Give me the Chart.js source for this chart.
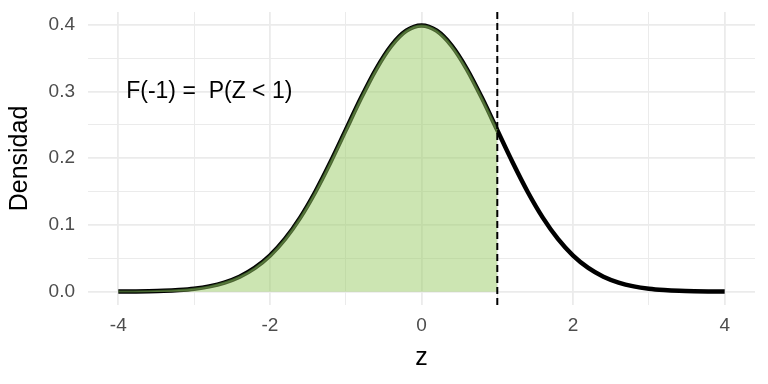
<!DOCTYPE html>
<html>
<head>
<meta charset="utf-8">
<script src="https://cdn.jsdelivr.net/npm/chart.js@4.4.1/dist/chart.umd.min.js"></script>
<style>
  html, body { margin: 0; padding: 0; background: #fff; }
  #wrap { width: 768px; height: 384px; }
</style>
</head>
<body>
<div id="wrap"><canvas id="normChart" width="768" height="384"></canvas></div>
<script>
// density of Z, every 0.2
const zValues = [-4, -3.8, -3.6, -3.4, -3.2, -3, -2.8, -2.6, -2.4, -2.2, -2, -1.8, -1.6, -1.4, -1.2, -1, -0.8, -0.6, -0.4, -0.2,
  0, 0.2, 0.4, 0.6, 0.8, 1, 1.2, 1.4, 1.6, 1.8, 2, 2.2, 2.4, 2.6, 2.8, 3, 3.2, 3.4, 3.6, 3.8, 4];
const density = [0.0001, 0.0003, 0.0006, 0.0012, 0.0024, 0.0044, 0.0079, 0.0136, 0.0224, 0.0355, 0.0540, 0.0790, 0.1109, 0.1497, 0.1942, 0.2420, 0.2897, 0.3332, 0.3683, 0.3910,
  0.3989, 0.3910, 0.3683, 0.3332, 0.2897, 0.2420, 0.1942, 0.1497, 0.1109, 0.0790, 0.0540, 0.0355, 0.0224, 0.0136, 0.0079, 0.0044, 0.0024, 0.0012, 0.0006, 0.0003, 0.0001];
const cutoff = 1;
const xTickValues = [-4, -3, -2, -1, 0, 1, 2, 3, 4];
const xTickLabels = ['-4', '', '-2', '', '0', '', '2', '', '4'];
const yTickValues = [0, 0.05, 0.1, 0.15, 0.2, 0.25, 0.3, 0.35, 0.4];
const yTickLabels = ['0.0', '', '0.1', '', '0.2', '', '0.3', '', '0.4'];
const noteText = 'F(-1) =  P(Z < 1)';
const notePos = [-2.8, 0.3];

const X_MIN = -4.4, X_MAX = 4.4, Y_MIN = -0.02, Y_MAX = 0.419;

const curve = zValues.map((z, i) => ({ x: z, y: density[i] }));
const shaded = curve.filter(p => p.x <= cutoff);
const vline = [{ x: cutoff, y: Y_MIN }, { x: cutoff, y: Y_MAX }];

const FONT = '"Liberation Sans", Arial, sans-serif';
const gridMajor = '#ebebeb';
const tickFont = { family: FONT, size: 19 };
const titleFont = { family: FONT, size: 25 };

const notePlugin = {
  id: 'note',
  afterDatasetsDraw(chart) {
    const { ctx, scales } = chart;
    ctx.save();
    ctx.font = '23px ' + FONT;
    ctx.fillStyle = '#000';
    ctx.textAlign = 'center';
    ctx.textBaseline = 'middle';
    ctx.fillText(noteText, scales.x.getPixelForValue(notePos[0]), scales.y.getPixelForValue(notePos[1]));
    ctx.restore();
  }
};

new Chart(document.getElementById('normChart'), {
  type: 'line',
  data: {
    datasets: [
      {
        data: vline,
        borderColor: '#000',
        borderWidth: 2,
        borderDash: [7, 4],
        pointRadius: 0,
        fill: false,
        order: -1
      },
      {
        data: shaded,
        borderColor: 'rgba(100, 150, 70, 0.55)',
        borderWidth: 2,
        backgroundColor: 'rgba(153, 204, 102, 0.5)',
        pointRadius: 0,
        cubicInterpolationMode: 'monotone',
        fill: 'origin',
        order: 0
      },
      {
        data: curve,
        borderColor: '#000',
        borderWidth: 4.5,
        pointRadius: 0,
        cubicInterpolationMode: 'monotone',
        fill: false,
        order: 1
      }
    ]
  },
  options: {
    responsive: false,
    animation: false,
    events: [],
    layout: { padding: { top: 12, right: 13, left: 0, bottom: 0 } },
    plugins: { legend: { display: false }, tooltip: { enabled: false } },
    scales: {
      x: {
        type: 'linear',
        min: X_MIN,
        max: X_MAX,
        afterBuildTicks: s => { s.ticks = xTickValues.map(v => ({ value: v })); },
        afterFit: s => { s.height = 79; },
        border: { display: false },
        grid: {
          drawTicks: false,
          color: gridMajor,
          lineWidth: c => (xTickLabels[c.index] === '' ? 1 : 1.8)
        },
        ticks: {
          padding: 9,
          color: '#4d4d4d',
          font: tickFont,
          maxRotation: 0,
          autoSkip: false,
          callback: (v, i) => xTickLabels[i]
        },
        title: {
          display: true,
          text: 'z',
          color: '#000',
          font: titleFont,
          padding: { top: 0, bottom: 11 }
        }
      },
      y: {
        min: Y_MIN,
        max: Y_MAX,
        afterBuildTicks: s => { s.ticks = yTickValues.map(v => ({ value: v })); },
        afterFit: s => {
          s.width = 88;
          // labels at the ends should not push the panel in
          s.paddingTop = 0;
          s.paddingBottom = 0;
        },
        border: { display: false },
        grid: {
          drawTicks: false,
          color: gridMajor,
          lineWidth: c => (yTickLabels[c.index] === '' ? 1 : 1.8)
        },
        ticks: {
          padding: 13,
          color: '#4d4d4d',
          font: tickFont,
          autoSkip: false,
          callback: (v, i) => yTickLabels[i]
        },
        title: {
          display: true,
          text: 'Densidad',
          color: '#000',
          font: titleFont,
          padding: { top: 5, bottom: 0 }
        }
      }
    }
  },
  plugins: [notePlugin]
});
</script>
</body>
</html>
